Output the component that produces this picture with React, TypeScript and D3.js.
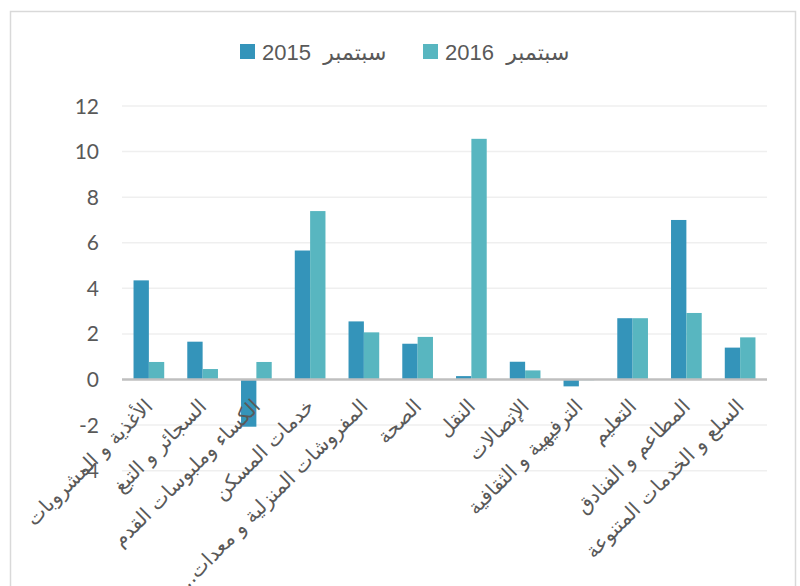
import React, { useEffect, useRef } from 'react';
import * as d3 from 'd3';

const categories = [
  'الأغذية و المشروبات',
  'السجائر و التبغ',
  'الكساء وملبوسات القدم',
  'خدمات المسكن',
  'المفروشات المنزلية و معدات...\u200F',
  'الصحة',
  'النقل',
  'الإتصالات',
  'الترفيهية و الثقافية',
  'التعليم',
  'المطاعم و الفنادق',
  'السلع و الخدمات المتنوعة',
];

const seriesNames = ['سبتمبر 2015', 'سبتمبر 2016'];
const sep2015 = [4.35, 1.66, -2.07, 5.66, 2.55, 1.57, 0.15, 0.78, -0.3, 2.69, 7.0, 1.4];
const sep2016 = [0.77, 0.46, 0.77, 7.39, 2.07, 1.87, 10.56, 0.4, -0.03, 2.69, 2.92, 1.85];
const yTicks = [-4, -2, 0, 2, 4, 6, 8, 10, 12];
const colors = ['#3494BA', '#58B6C0'];

const W = 800;
const H = 586;

const Chart: React.FC = () => {
  const svgRef = useRef<SVGSVGElement>(null);

  useEffect(() => {
    if (!svgRef.current) return;
    const svg = d3.select(svgRef.current);
    svg.selectAll('*').remove();

    const plot = { left: 122, right: 767, top: 106, bottom: 470.7 };
    const txtColor = '#595959';
    const arabicFont = '"DejaVu Sans", "Liberation Sans", sans-serif';

    // chart frame
    svg.append('rect')
      .attr('x', 10.5).attr('y', 11.5)
      .attr('width', 785).attr('height', H)
      .attr('fill', '#fff')
      .attr('stroke', '#D9D9D9')
      .attr('stroke-width', 1.5);

    const x0 = d3.scaleBand<string>()
      .domain(categories)
      .range([plot.left, plot.right])
      .paddingInner(0.429)
      .paddingOuter(0.2145);

    const x1 = d3.scaleBand<string>()
      .domain(seriesNames)
      .range([0, x0.bandwidth()]);

    const y = d3.scaleLinear().domain([-4, 12]).range([plot.bottom, plot.top]);

    // gridlines
    svg.append('g')
      .selectAll('line')
      .data(yTicks.filter(t => t !== 0))
      .enter()
      .append('line')
      .attr('x1', plot.left).attr('x2', plot.right)
      .attr('y1', d => y(d)).attr('y2', d => y(d))
      .attr('stroke', '#EFEFEF')
      .attr('stroke-width', 1.5);

    // y tick labels
    svg.append('g')
      .selectAll('text')
      .data(yTicks)
      .enter()
      .append('text')
      .attr('x', 99)
      .attr('y', d => y(d))
      .attr('dy', '0.36em')
      .attr('text-anchor', 'end')
      .attr('fill', txtColor)
      .style('font-family', 'Lato, "Liberation Sans", sans-serif')
      .style('font-size', '21px')
      .text(d => `${d}`);

    // bars
    const rows = categories.map((c, i) => ({ c, vals: [sep2015[i], sep2016[i]] }));
    const groups = svg.append('g')
      .selectAll('g')
      .data(rows)
      .enter()
      .append('g')
      .attr('transform', d => `translate(${x0(d.c)},0)`);

    groups.selectAll('rect')
      .data(d => d.vals.map((v, k) => ({ v, k })))
      .enter()
      .append('rect')
      .attr('x', d => x1(seriesNames[d.k]) || 0)
      .attr('y', d => y(Math.max(0, d.v)))
      .attr('width', x1.bandwidth())
      .attr('height', d => Math.abs(y(d.v) - y(0)))
      .attr('fill', d => colors[d.k]);

    // zero axis line
    svg.append('line')
      .attr('x1', plot.left).attr('x2', plot.right)
      .attr('y1', y(0)).attr('y2', y(0))
      .attr('stroke', '#BFBFBF')
      .attr('stroke-width', 2.5);

    // category labels, rotated
    svg.append('g')
      .selectAll('text')
      .data(categories)
      .enter()
      .append('text')
      .attr('transform', d => `translate(${(x0(d) || 0) + x0.bandwidth() / 2 + 5},${y(0) + 28}) rotate(-45)`)
      .attr('text-anchor', 'end')
      .attr('fill', txtColor)
      .style('font-family', arabicFont)
      .style('font-size', '20px')
      .text(d => d);

    // legend
    const legendX = [240, 423];
    const leg = svg.append('g')
      .selectAll('g')
      .data(seriesNames)
      .enter()
      .append('g')
      .attr('transform', (_, i) => `translate(${legendX[i]},44)`);

    leg.append('rect')
      .attr('width', 15).attr('height', 15)
      .attr('fill', (_, i) => colors[i]);

    leg.append('text')
      .attr('x', 22)
      .attr('y', 16)
      .attr('fill', txtColor)
      .style('font-family', '"Liberation Sans", "DejaVu Sans", sans-serif')
      .style('font-size', '22px')
      .style('white-space', 'pre')
      .text(d => d.replace(' ', '  '));
  }, []);

  return <svg ref={svgRef} width={W} height={H} style={{ position: 'absolute', left: 0, top: 0, background: '#fff' }} />;
};

export default function App() {
  return <Chart />;
}
